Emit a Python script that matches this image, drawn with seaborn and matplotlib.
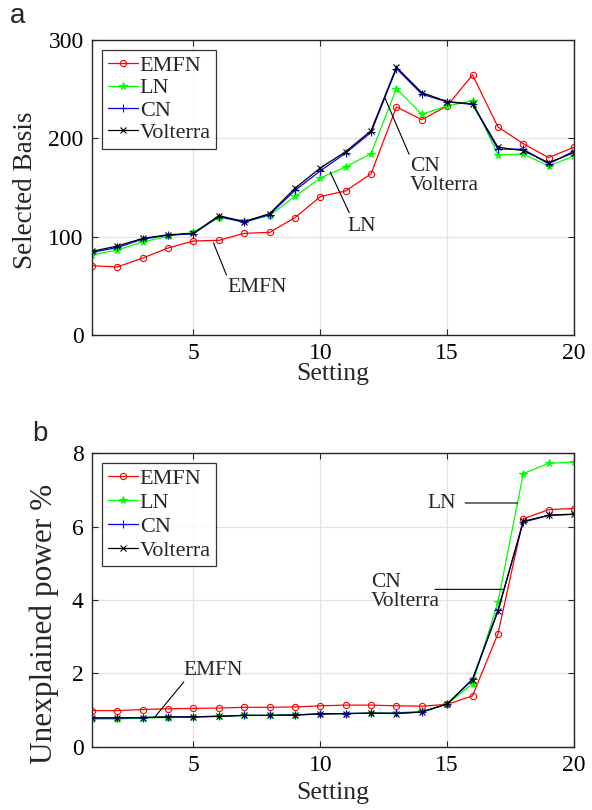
import numpy as np
import pandas as pd
import seaborn as sns
import matplotlib
matplotlib.use("Agg")
import matplotlib.pyplot as plt

settings = list(range(1, 21))

basis_emfn = [70.5, 69.2, 78.3, 88.5, 95.6, 96.3, 103.4, 104.4, 119.4, 140.7,
              146.5, 164, 232, 219, 233, 264.5, 211.6, 194.6, 180.4, 191]
basis_ln = [81.4, 86.5, 94.6, 100.4, 104.4, 119.4, 116.3, 121.4, 141, 159.7,
            170.9, 184.5, 250.6, 224.5, 233, 238, 183.4, 184, 172, 182]
basis_cn = [84, 89, 97.5, 101.5, 103, 120.5, 114.5, 122.5, 147, 167,
            185, 206, 271, 245, 237, 234.5, 189, 189, 174, 187]
basis_volterra = [85.1, 90.5, 98.3, 102, 103.4, 121.4, 115.3, 123.4, 149.2, 169.9,
                  186.5, 207.8, 272.3, 246.5, 237.4, 235, 191, 187.5, 175.3, 185.5]

power_emfn = [0.99, 0.99, 1.02, 1.04, 1.05, 1.06, 1.08, 1.08, 1.09, 1.12,
              1.14, 1.14, 1.12, 1.11, 1.16, 1.39, 3.08, 6.21, 6.46, 6.49]
power_ln = [0.76, 0.76, 0.79, 0.80, 0.81, 0.84, 0.86, 0.86, 0.88, 0.90,
            0.91, 0.92, 0.93, 0.97, 1.17, 1.72, 3.94, 7.44, 7.72, 7.75]
power_cn = [0.79, 0.79, 0.80, 0.82, 0.82, 0.84, 0.86, 0.86, 0.87, 0.90,
            0.91, 0.92, 0.92, 0.95, 1.17, 1.85, 3.72, 6.12, 6.30, 6.33]
power_volterra = [0.79, 0.79, 0.80, 0.82, 0.82, 0.83, 0.86, 0.86, 0.87, 0.90,
                  0.91, 0.92, 0.91, 0.95, 1.17, 1.83, 3.69, 6.14, 6.31, 6.34]

series_names = ["EMFN", "LN", "CN", "Volterra"]
colors = ["#ff0000", "#00ff00", "#0000ff", "#000000"]
markers = ["o", "*", "+", "x"]

sns.set_theme(style="white")
plt.rcParams["font.family"] = ["Liberation Serif", "DejaVu Serif"]

fig = plt.figure(figsize=(5.92, 8.10), dpi=100)
ax1 = fig.add_axes([0.1554, 0.5864, 0.8142, 0.3642])
ax2 = fig.add_axes([0.1554, 0.0778, 0.8142, 0.3629])


def draw(ax, data_lists, ylim, yticks, ylabel, ylabel_size, ylabel_xy,
         xlabel_pad, leg_spacing):
    df = pd.DataFrame({"Setting": settings})
    for name, vals in zip(series_names, data_lists):
        df[name] = vals
    for name, c, m in zip(series_names, colors, markers):
        kw = dict(markeredgewidth=0.8)
        if m == "o":
            kw.update(markerfacecolor="none", markeredgecolor=c, markersize=4.5)
        elif m == "*":
            kw.update(markerfacecolor=c, markeredgecolor=c, markersize=5.5)
        elif m == "+":
            kw.update(markeredgecolor=c, markersize=6)
        else:
            kw.update(markeredgecolor=c, markersize=4.5)
        sns.lineplot(data=df, x="Setting", y=name, ax=ax, color=c, marker=m,
                     linewidth=0.9, label=name, **kw)
    ax.set_xlim(1, 20)
    ax.set_ylim(*ylim)
    ax.set_xticks([5, 10, 15, 20])
    ax.set_yticks(yticks)
    ax.grid(True, color="#e3e3e3", linewidth=0.9)
    ax.set_axisbelow(True)
    for s in ax.spines.values():
        s.set_visible(True)
        s.set_color("#262626")
        s.set_linewidth(1.0)
    ax.tick_params(direction="in", length=4, width=0.8, colors="#262626",
                   labelcolor="black", labelsize=17, top=True, right=True,
                   bottom=True, left=True, pad=6)
    ax.set_xlabel("Setting", fontsize=18.5, labelpad=xlabel_pad)
    ax.set_ylabel(ylabel, fontsize=ylabel_size)
    ax.yaxis.set_label_coords(*ylabel_xy)
    leg = ax.legend(loc="upper left", fontsize=16, frameon=True, fancybox=False,
                    edgecolor="black", handlelength=1.35, handletextpad=0.1,
                    borderpad=0.25, labelspacing=leg_spacing, borderaxespad=0.45)
    leg.get_frame().set_linewidth(0.9)


draw(ax1, [basis_emfn, basis_ln, basis_cn, basis_volterra], (0, 300),
     [0, 100, 200, 300], "Selected Basis", 19.5, (-0.112, 0.49), -1, 0.08)
draw(ax2, [power_emfn, power_ln, power_cn, power_volterra], (0, 8),
     [0, 2, 4, 6, 8], "Unexplained power %", 22.5, (-0.068, 0.42), 4, 0.15)

line_kw = dict(arrowstyle="-", color="black", linewidth=0.8, shrinkA=0, shrinkB=0)

# Top panel annotations
ax1.annotate("", xy=(5.79, 93.6), xytext=(6.3, 61), arrowprops=line_kw)
ax1.text(7.52, 48.8, "EMFN", ha="center", va="center", fontsize=15.5)
ax1.annotate("", xy=(10.39, 165.8), xytext=(11.14, 124.4), arrowprops=line_kw)
ax1.text(11.65, 110, "LN", ha="center", va="center", fontsize=15.5)
ax1.annotate("", xy=(12.55, 240.8), xytext=(13.5, 183.8), arrowprops=line_kw)
ax1.text(13.54, 161.7, "CN\nVolterra", ha="left", va="center", fontsize=15.5,
         linespacing=1.0)

# Bottom panel annotations
ax2.annotate("", xy=(3.46, 0.80), xytext=(4.62, 1.77), arrowprops=line_kw)
ax2.text(5.79, 2.09, "EMFN", ha="center", va="center", fontsize=15.5)
ax2.annotate("", xy=(17.78, 6.64), xytext=(15.71, 6.64), arrowprops=line_kw)
ax2.text(14.79, 6.64, "LN", ha="center", va="center", fontsize=15.5)
ax2.annotate("", xy=(17.2, 4.29), xytext=(14.52, 4.29), arrowprops=line_kw)
ax2.text(12.0, 4.23, "CN\nVolterra", ha="left", va="center", fontsize=15.5,
         linespacing=1.0)

fig.text(0.017, 0.972, "a", fontsize=20, family="Liberation Sans", va="baseline")
fig.text(0.054, 0.456, "b", fontsize=20, family="Liberation Sans", va="baseline")

fig.savefig("out.png", dpi=100)
